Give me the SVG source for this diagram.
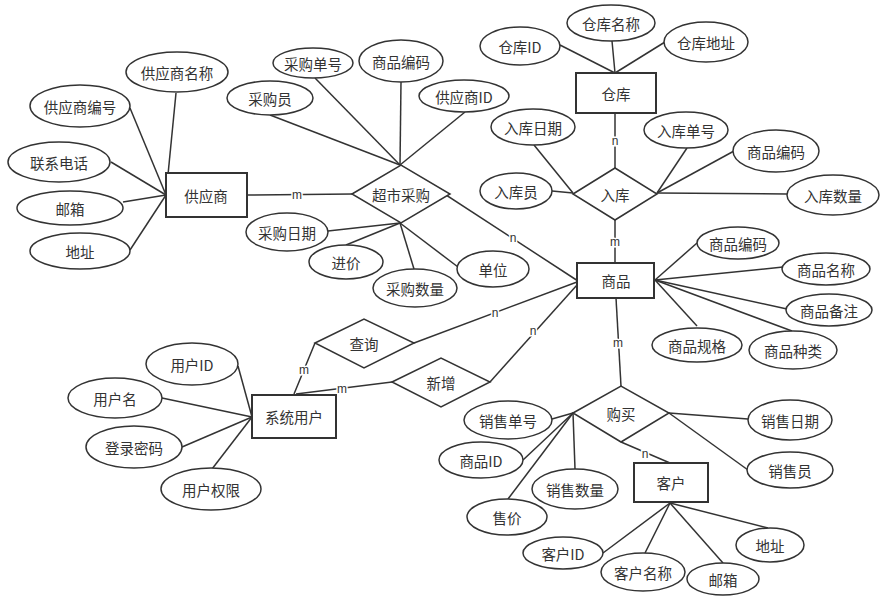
<svg xmlns="http://www.w3.org/2000/svg" width="882" height="598" viewBox="0 0 882 598">
<style>
.l{stroke:#333;stroke-width:1.5;fill:none}
.e{fill:#fff;stroke:#333;stroke-width:1.5}
.r{fill:#fff;stroke:#333;stroke-width:2}
.t{font-family:"Noto Sans CJK SC","Liberation Sans",sans-serif;font-size:14.5px;fill:#333;text-anchor:middle;dominant-baseline:central}
.c{font-family:"Liberation Sans","Noto Sans CJK SC",sans-serif;font-size:12px;fill:#333;text-anchor:middle;dominant-baseline:central;stroke:#fff;stroke-width:3;paint-order:stroke}
</style>
<rect width="882" height="598" fill="#fff"/>
<g id="connectors">
<!-- supplier attrs -->
<line class="l" x1="176" y1="93" x2="166" y2="195"/>
<line class="l" x1="130" y1="108" x2="166" y2="195"/>
<line class="l" x1="111" y1="162" x2="166" y2="195"/>
<line class="l" x1="123" y1="202" x2="166" y2="195"/>
<line class="l" x1="130" y1="250" x2="166" y2="195"/>
<!-- supplier - purchase -->
<line class="l" x1="247" y1="195" x2="352" y2="194"/>
<!-- purchase attrs top -->
<line class="l" x1="270" y1="115" x2="400" y2="165"/>
<line class="l" x1="315" y1="78" x2="400" y2="165"/>
<line class="l" x1="401" y1="82" x2="400" y2="165"/>
<line class="l" x1="465" y1="112" x2="400" y2="165"/>
<!-- purchase - goods -->
<line class="l" x1="400" y1="165" x2="578" y2="281"/>
<!-- purchase attrs bottom -->
<line class="l" x1="328" y1="231" x2="400" y2="223"/>
<line class="l" x1="346" y1="245" x2="400" y2="223"/>
<line class="l" x1="414" y1="269" x2="400" y2="223"/>
<line class="l" x1="458" y1="267" x2="400" y2="223"/>
<!-- warehouse attrs -->
<line class="l" x1="560" y1="45" x2="615" y2="73"/>
<line class="l" x1="612" y1="41" x2="615" y2="73"/>
<line class="l" x1="665" y1="42" x2="615" y2="73"/>
<!-- warehouse - inbound -->
<line class="l" x1="615" y1="113" x2="615" y2="168"/>
<!-- inbound attrs -->
<line class="l" x1="534" y1="145" x2="573" y2="193"/>
<line class="l" x1="552" y1="191" x2="573" y2="193"/>
<line class="l" x1="687" y1="148" x2="657" y2="193"/>
<line class="l" x1="734" y1="151" x2="657" y2="193"/>
<line class="l" x1="787" y1="194" x2="657" y2="193"/>
<!-- inbound - goods -->
<line class="l" x1="615" y1="220" x2="615" y2="263"/>
<!-- goods attrs -->
<line class="l" x1="697" y1="243" x2="655" y2="280"/>
<line class="l" x1="783" y1="267" x2="655" y2="280"/>
<line class="l" x1="787" y1="309" x2="655" y2="280"/>
<line class="l" x1="792" y1="331" x2="655" y2="280"/>
<line class="l" x1="697" y1="326" x2="655" y2="280"/>
<!-- goods - buy -->
<line class="l" x1="616" y1="298" x2="621" y2="386"/>
<!-- query/add - goods -->
<line class="l" x1="414" y1="343" x2="577" y2="282"/>
<line class="l" x1="490" y1="382" x2="577" y2="285"/>
<!-- user - query/add -->
<line class="l" x1="294" y1="394" x2="315" y2="343"/>
<line class="l" x1="296" y1="394" x2="392" y2="382"/>
<!-- user attrs -->
<line class="l" x1="238" y1="366" x2="252" y2="417"/>
<line class="l" x1="162" y1="398" x2="252" y2="417"/>
<line class="l" x1="182" y1="447" x2="252" y2="417"/>
<line class="l" x1="212" y1="469" x2="252" y2="417"/>
<!-- buy attrs -->
<line class="l" x1="552" y1="419" x2="573" y2="413"/>
<line class="l" x1="523" y1="460" x2="573" y2="413"/>
<line class="l" x1="508" y1="499" x2="573" y2="413"/>
<line class="l" x1="575" y1="469" x2="573" y2="413"/>
<line class="l" x1="748" y1="419" x2="669" y2="413"/>
<line class="l" x1="748" y1="470" x2="669" y2="413"/>
<!-- buy - customer -->
<line class="l" x1="621" y1="442" x2="670" y2="463"/>
<!-- customer attrs -->
<line class="l" x1="603" y1="553" x2="670" y2="503"/>
<line class="l" x1="645" y1="553" x2="670" y2="503"/>
<line class="l" x1="723" y1="563" x2="670" y2="503"/>
<line class="l" x1="768" y1="528" x2="670" y2="503"/>
<!-- cardinality labels -->
<text class="c" x="297" y="195">m</text>
<text class="c" x="513" y="238">n</text>
<text class="c" x="615" y="141">n</text>
<text class="c" x="615" y="242">m</text>
<text class="c" x="618" y="343">m</text>
<text class="c" x="495" y="313">n</text>
<text class="c" x="533" y="331">n</text>
<text class="c" x="304" y="370">m</text>
<text class="c" x="342" y="389">m</text>
<text class="c" x="645" y="454">n</text>
</g>
<!-- entities -->
<g id="supplier"><rect class="r" x="166" y="173" width="81" height="44"/><text class="t" x="206" y="195">供应商</text></g>
<g id="warehouse"><rect class="r" x="576" y="73" width="80" height="40"/><text class="t" x="616" y="93">仓库</text></g>
<g id="goods"><rect class="r" x="577" y="263" width="77" height="35"/><text class="t" x="616" y="280">商品</text></g>
<g id="sysuser"><rect class="r" x="252" y="395" width="84" height="43"/><text class="t" x="294" y="416">系统用户</text></g>
<g id="customer"><rect class="r" x="634" y="463" width="74" height="39"/><text class="t" x="671" y="482">客户</text></g>
<!-- relationships -->
<g id="purchase"><polygon class="e" points="352,194 401,165 450,194 401,223"/><text class="t" x="401" y="194">超市采购</text></g>
<g id="inbound"><polygon class="e" points="573,194 615,168 657,194 615,220"/><text class="t" x="615" y="194">入库</text></g>
<g id="query"><polygon class="e" points="315,343 364,319 414,343 364,368"/><text class="t" x="364" y="343">查询</text></g>
<g id="add"><polygon class="e" points="392,382 441,358 490,382 441,407"/><text class="t" x="441" y="382">新增</text></g>
<g id="buy"><polygon class="e" points="573,413 621,386 669,413 621,442"/><text class="t" x="621" y="413">购买</text></g>
<!-- supplier attributes -->
<g id="a_gysmc"><ellipse class="e" cx="177" cy="72" rx="51" ry="20"/><text class="t" x="177" y="72">供应商名称</text></g>
<g id="a_gysbh"><ellipse class="e" cx="80" cy="106" rx="50" ry="21"/><text class="t" x="80" y="106">供应商编号</text></g>
<g id="a_lxdh"><ellipse class="e" cx="59" cy="162" rx="51" ry="20"/><text class="t" x="59" y="162">联系电话</text></g>
<g id="a_yx1"><ellipse class="e" cx="70" cy="208" rx="53" ry="17"/><text class="t" x="70" y="208">邮箱</text></g>
<g id="a_dz1"><ellipse class="e" cx="80" cy="251" rx="50" ry="18"/><text class="t" x="80" y="251">地址</text></g>
<!-- purchase attributes -->
<g id="a_cgdh"><ellipse class="e" cx="313" cy="63" rx="40" ry="15"/><text class="t" x="313" y="63">采购单号</text></g>
<g id="a_spbm1"><ellipse class="e" cx="401" cy="61" rx="42" ry="21"/><text class="t" x="401" y="61">商品编码</text></g>
<g id="a_gysid"><ellipse class="e" cx="464" cy="96" rx="45" ry="16"/><text class="t" x="464" y="96">供应商ID</text></g>
<g id="a_cgy"><ellipse class="e" cx="270" cy="98" rx="43" ry="17"/><text class="t" x="270" y="98">采购员</text></g>
<g id="a_cgrq"><ellipse class="e" cx="287" cy="232" rx="41" ry="19"/><text class="t" x="287" y="232">采购日期</text></g>
<g id="a_jj"><ellipse class="e" cx="346" cy="262" rx="37" ry="17"/><text class="t" x="346" y="262">进价</text></g>
<g id="a_cgsl"><ellipse class="e" cx="415" cy="288" rx="42" ry="19"/><text class="t" x="415" y="288">采购数量</text></g>
<g id="a_dw"><ellipse class="e" cx="493" cy="269" rx="36" ry="18"/><text class="t" x="493" y="269">单位</text></g>
<!-- warehouse attributes -->
<g id="a_ckid"><ellipse class="e" cx="520" cy="46" rx="40" ry="19"/><text class="t" x="520" y="46">仓库ID</text></g>
<g id="a_ckmc"><ellipse class="e" cx="611" cy="23" rx="44" ry="18"/><text class="t" x="611" y="23">仓库名称</text></g>
<g id="a_ckdz"><ellipse class="e" cx="706" cy="42" rx="42" ry="20"/><text class="t" x="706" y="42">仓库地址</text></g>
<!-- inbound attributes -->
<g id="a_rkrq"><ellipse class="e" cx="533" cy="127" rx="42" ry="18"/><text class="t" x="533" y="127">入库日期</text></g>
<g id="a_rky"><ellipse class="e" cx="516" cy="191" rx="36" ry="18"/><text class="t" x="516" y="191">入库员</text></g>
<g id="a_rkdh"><ellipse class="e" cx="686" cy="130" rx="42" ry="18"/><text class="t" x="686" y="130">入库单号</text></g>
<g id="a_spbm2"><ellipse class="e" cx="776" cy="151" rx="43" ry="21"/><text class="t" x="776" y="151">商品编码</text></g>
<g id="a_rksl"><ellipse class="e" cx="833" cy="195" rx="46" ry="20"/><text class="t" x="833" y="195">入库数量</text></g>
<!-- goods attributes -->
<g id="a_spbm3"><ellipse class="e" cx="738" cy="243" rx="41" ry="16"/><text class="t" x="738" y="243">商品编码</text></g>
<g id="a_spmc"><ellipse class="e" cx="826" cy="269" rx="44" ry="16"/><text class="t" x="826" y="269">商品名称</text></g>
<g id="a_spbz"><ellipse class="e" cx="829" cy="310" rx="43" ry="16"/><text class="t" x="829" y="310">商品备注</text></g>
<g id="a_spgg"><ellipse class="e" cx="697" cy="345" rx="45" ry="17"/><text class="t" x="697" y="345">商品规格</text></g>
<g id="a_spzl"><ellipse class="e" cx="793" cy="350" rx="44" ry="19"/><text class="t" x="793" y="350">商品种类</text></g>
<!-- user attributes -->
<g id="a_yhid"><ellipse class="e" cx="192" cy="364" rx="46" ry="21"/><text class="t" x="192" y="364">用户ID</text></g>
<g id="a_yhm"><ellipse class="e" cx="115" cy="398" rx="47" ry="20"/><text class="t" x="115" y="398">用户名</text></g>
<g id="a_dlmm"><ellipse class="e" cx="134" cy="447" rx="48" ry="21"/><text class="t" x="134" y="447">登录密码</text></g>
<g id="a_yhqx"><ellipse class="e" cx="211" cy="489" rx="50" ry="21"/><text class="t" x="211" y="489">用户权限</text></g>
<!-- buy attributes -->
<g id="a_xsdh"><ellipse class="e" cx="508" cy="420" rx="44" ry="19"/><text class="t" x="508" y="420">销售单号</text></g>
<g id="a_spid"><ellipse class="e" cx="481" cy="460" rx="42" ry="18"/><text class="t" x="481" y="460">商品ID</text></g>
<g id="a_xssl"><ellipse class="e" cx="575" cy="489" rx="43" ry="20"/><text class="t" x="575" y="489">销售数量</text></g>
<g id="a_sj"><ellipse class="e" cx="507" cy="517" rx="40" ry="18"/><text class="t" x="507" y="517">售价</text></g>
<g id="a_xsrq"><ellipse class="e" cx="790" cy="420" rx="42" ry="20"/><text class="t" x="790" y="420">销售日期</text></g>
<g id="a_xsy"><ellipse class="e" cx="790" cy="470" rx="43" ry="18"/><text class="t" x="790" y="470">销售员</text></g>
<!-- customer attributes -->
<g id="a_khid"><ellipse class="e" cx="563" cy="553" rx="40" ry="16"/><text class="t" x="563" y="553">客户ID</text></g>
<g id="a_khmc"><ellipse class="e" cx="643" cy="572" rx="42" ry="19"/><text class="t" x="643" y="572">客户名称</text></g>
<g id="a_yx2"><ellipse class="e" cx="723" cy="579" rx="36" ry="16"/><text class="t" x="723" y="579">邮箱</text></g>
<g id="a_dz2"><ellipse class="e" cx="770" cy="545" rx="34" ry="17"/><text class="t" x="770" y="545">地址</text></g>
</svg>
